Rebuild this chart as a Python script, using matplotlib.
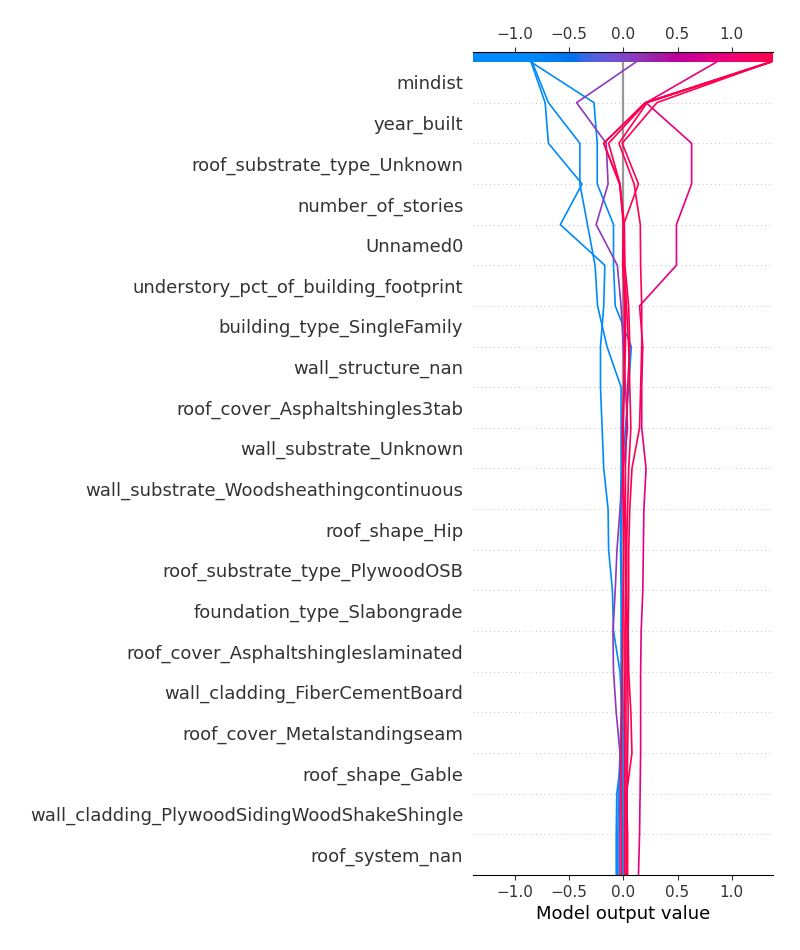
import numpy as np
import matplotlib
matplotlib.use("Agg")
import matplotlib.pyplot as plt
from matplotlib.colors import LinearSegmentedColormap, Normalize

# feature rows, top to bottom
features = ["mindist", "year_built", "roof_substrate_type_Unknown", "number_of_stories",
            "Unnamed0", "understory_pct_of_building_footprint", "building_type_SingleFamily",
            "wall_structure_nan", "roof_cover_Asphaltshingles3tab", "wall_substrate_Unknown",
            "wall_substrate_Woodsheathingcontinuous", "roof_shape_Hip",
            "roof_substrate_type_PlywoodOSB", "foundation_type_Slabongrade",
            "roof_cover_Asphaltshingleslaminated", "wall_cladding_FiberCementBoard",
            "roof_cover_Metalstandingseam", "roof_shape_Gable",
            "wall_cladding_PlywoodSidingWoodShakeShingle", "roof_system_nan"]

# cumulative model output per observation, read from the top (final output) down to the bottom
obs_1 = [-0.85, -0.27, -0.24, -0.24, -0.09, -0.09, -0.074, 0.074, 0.05, 0.02, -0.01,
         -0.02, -0.02, -0.015, -0.01, -0.01, -0.005, -0.005, -0.005, -0.005, -0.005]
obs_2 = [-0.85, -0.72, -0.69, -0.38, -0.58, -0.17, -0.18, -0.21, -0.21, -0.195, -0.18,
         -0.14, -0.135, -0.10, -0.09, -0.03, -0.012, -0.01, -0.06, -0.065, -0.065]
obs_3 = [-0.84, -0.69, -0.40, -0.40, -0.33, -0.26, -0.237, -0.15, -0.02, -0.02, -0.02,
         -0.025, -0.025, -0.02, -0.02, -0.02, -0.02, -0.03, -0.045, -0.05, -0.05]
obs_4 = [0.117, -0.43, -0.157, -0.14, -0.25, -0.055, -0.02, 0.0, 0.02, 0.04, 0.0,
         -0.03, -0.058, -0.074, -0.095, -0.09, -0.065, -0.03, -0.03, -0.035, -0.035]
obs_5 = [0.86, 0.21, 0.63, 0.63, 0.49, 0.49, 0.15, 0.18, 0.17, 0.17, 0.21,
         0.19, 0.185, 0.18, 0.165, 0.16, 0.16, 0.16, 0.155, 0.15, 0.14]
obs_6 = [1.355, 0.31, -0.01, 0.14, 0.003, 0.01, 0.03, 0.05, 0.06, 0.07, 0.05,
         0.04, 0.03, 0.03, 0.04, 0.04, 0.045, 0.04, 0.035, 0.034, 0.034]
obs_7 = [1.36, 0.22, -0.04, 0.10, 0.157, 0.16, 0.17, 0.17, 0.16, 0.15, 0.08,
         0.06, 0.05, 0.05, 0.045, 0.05, 0.07, 0.08, 0.03, 0.04, 0.04]
obs_8 = [1.35, 0.20, -0.18, -0.03, 0.0, -0.005, 0.02, 0.02, 0.01, 0.0, 0.0,
         0.01, 0.02, 0.02, 0.015, 0.015, 0.01, 0.012, 0.012, 0.012, 0.012]
obs_9 = [1.365, 0.21, -0.18, -0.035, 0.005, 0.0, 0.01, 0.01, 0.005, -0.01, -0.005,
         0.0, 0.005, 0.0, -0.005, -0.01, -0.015, -0.02, -0.02, -0.02, -0.02]
obs_10 = [1.36, 0.21, -0.135, -0.03, 0.01, 0.015, 0.05, 0.06, 0.04, 0.03, 0.02,
          0.02, 0.03, 0.03, 0.025, 0.025, 0.025, 0.025, 0.025, 0.025, 0.025]

base_value = 0.0
x_ticks = [-1.0, -0.5, 0.0, 0.5, 1.0]
x_range = (-1.385, 1.38)


def lch_to_rgb(l, c, h):
    # Lch -> Lab -> XYZ (D65) -> sRGB
    a, b = c * np.cos(h), c * np.sin(h)
    fy = (l + 16) / 116
    fx, fz = fy + a / 500, fy - b / 200
    finv = lambda t: np.where(t > 6 / 29, t ** 3, 3 * (6 / 29) ** 2 * (t - 4 / 29))
    xyz = np.array([0.95047 * finv(fx), finv(fy), 1.08883 * finv(fz)])
    m = np.array([[3.2406, -1.5372, -0.4986], [-0.9689, 1.8758, 0.0415], [0.0557, -0.2040, 1.0570]])
    rgb = m @ xyz
    rgb = np.where(rgb <= 0.0031308, 12.92 * rgb, 1.055 * np.abs(rgb) ** (1 / 2.4) - 0.055)
    return np.clip(rgb, 0, 1)


def red_blue_cmap():
    blue_lch = [54., 70., 4.6588]
    red_lch = [54., 90., 0.35470565 + 2 * np.pi]
    n = 100
    l_vals = list(np.linspace(blue_lch[0], 40., n // 2)) + list(np.linspace(40., red_lch[0], n // 2))
    c_vals = np.linspace(blue_lch[1], red_lch[1], n)
    h_vals = np.linspace(blue_lch[2], red_lch[2], n)
    colors = [lch_to_rgb(l, c, h) for l, c, h in zip(l_vals, c_vals, h_vals)]
    return LinearSegmentedColormap.from_list("red_blue", colors)


def main():
    cmap = red_blue_cmap()
    observations = [obs_1, obs_2, obs_3, obs_4, obs_5, obs_6, obs_7, obs_8, obs_9, obs_10]
    finals = [o[0] for o in observations]
    norm = Normalize(vmin=min(finals), vmax=max(finals))
    n_feat = len(features)
    y_pos = np.arange(n_feat + 1)

    fig = plt.figure(figsize=(8, 9.5), dpi=100)
    ax = fig.add_axes([473 / 800, 75 / 950, 300 / 800, 813 / 950])

    # dotted row separators and base value line
    for i in range(1, n_feat):
        ax.axhline(i, color="#888888", lw=0.5, dashes=(1, 5), zorder=-1)
    ax.axvline(base_value, color="#999999", lw=1.6, zorder=1)

    for obs in observations:
        xs = np.array(obs[::-1])
        ax.plot(xs, y_pos, color=cmap(norm(obs[0])), lw=1.2, zorder=2)

    ax.set_xlim(x_range)
    ax.set_ylim(0, n_feat)
    ax.set_yticks(np.arange(n_feat) + 0.5)
    ax.set_yticklabels(features[::-1], fontsize=13, color="#333333")
    ax.tick_params(axis="y", length=0, pad=7)
    ax.set_xticks(x_ticks)
    ax.tick_params(axis="x", labelsize=11, colors="#333333")
    ax.set_xlabel("Model output value", fontsize=13)
    for s in ["left", "right", "top"]:
        ax.spines[s].set_visible(False)

    # colour bar on top, sharing the x scale
    cax = fig.add_axes([473 / 800, 888 / 950, 300 / 800, 10 / 950])
    xs = np.linspace(x_range[0], x_range[1], 600)
    cax.imshow(cmap(norm(xs))[np.newaxis, :, :], extent=(x_range[0], x_range[1], 0, 1),
               aspect="auto", interpolation="bilinear")
    cax.set_xlim(x_range)
    cax.set_yticks([])
    cax.xaxis.tick_top()
    cax.set_xticks(x_ticks)
    cax.tick_params(axis="x", labelsize=11, colors="#333333")
    for s in ["left", "right", "bottom"]:
        cax.spines[s].set_visible(False)

    fig.savefig("out.png", dpi=100)


if __name__ == "__main__":
    main()
